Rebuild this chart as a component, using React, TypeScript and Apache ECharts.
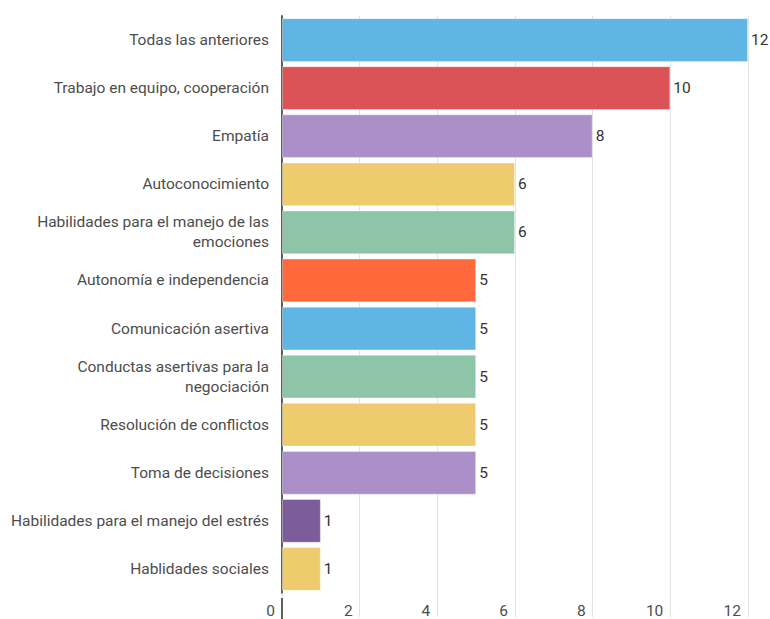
import React, { useEffect, useRef } from "react";
import * as echarts from "echarts";

const categories = [
  "Todas las anteriores",
  "Trabajo en equipo, cooperación",
  "Empatía",
  "Autoconocimiento",
  "Habilidades para el manejo de las\nemociones",
  "Autonomía e independencia",
  "Comunicación asertiva",
  "Conductas asertivas para la\nnegociación",
  "Resolución de conflictos",
  "Toma de decisiones",
  "Habilidades para el manejo del estrés",
  "Hablidades sociales",
];

const values = [12, 10, 8, 6, 6, 5, 5, 5, 5, 5, 1, 1];

const barColors = [
  "#5fb5e4",
  "#dc5357",
  "#ab8fc8",
  "#eecb6c",
  "#8ec4a7",
  "#ff693b",
  "#5fb5e4",
  "#8ec4a7",
  "#eecb6c",
  "#ab8fc8",
  "#7c5c9a",
  "#eecb6c",
];

export default function App() {
  const ref = useRef<HTMLDivElement>(null);

  useEffect(() => {
    if (!ref.current) return;
    const chart = echarts.init(ref.current, null, { renderer: "svg" });
    const font = "Roboto, 'Noto Sans', sans-serif";
    chart.setOption({
      animation: false,
      backgroundColor: "#ffffff",
      textStyle: { fontFamily: font },
      grid: { left: 282, right: 22, top: 16, bottom: 21, containLabel: false },
      xAxis: {
        type: "value",
        min: 0,
        max: 12,
        interval: 2,
        axisLine: { show: false },
        axisTick: { show: true, length: 24, lineStyle: { color: "#e3e3e3", width: 1 } },
        splitLine: { show: true, lineStyle: { color: "#e3e3e3", width: 1 } },
        axisLabel: {
          color: "#4d4d4d",
          fontSize: 15.5,
          fontFamily: font,
          align: "right",
          padding: [0, 7, 0, 0],
          margin: 10,
        },
      },
      yAxis: {
        type: "category",
        data: categories,
        inverse: true,
        axisLine: { show: true, lineStyle: { color: "#5f5f5f", width: 2 } },
        axisTick: { show: false },
        splitLine: { show: false },
        axisLabel: {
          color: "#4d4d4d",
          fontSize: 15.5,
          fontFamily: font,
          margin: 13,
          lineHeight: 20,
          align: "right",
        },
      },
      series: [
        {
          type: "bar",
          data: values.map((v, i) => ({
            value: v,
            itemStyle: { color: barColors[i], borderColor: "rgba(255,255,255,0.35)", borderWidth: 1 },
          })),
          barCategoryGap: "9%",
          label: {
            show: true,
            position: "right",
            distance: 3,
            color: "#333333",
            fontSize: 15.5,
            fontFamily: font,
          },
        },
      ],
      graphic: [
        {
          type: "line",
          shape: { x1: 282, y1: 598, x2: 282, y2: 619 },
          style: { stroke: "#5f5f5f", lineWidth: 2 },
          z: 100,
        },
      ],
    });
    return () => chart.dispose();
  }, []);

  return (
    <div
      ref={ref}
      style={{ position: "fixed", left: 0, top: 0, width: 770, height: 619 }}
    />
  );
}
